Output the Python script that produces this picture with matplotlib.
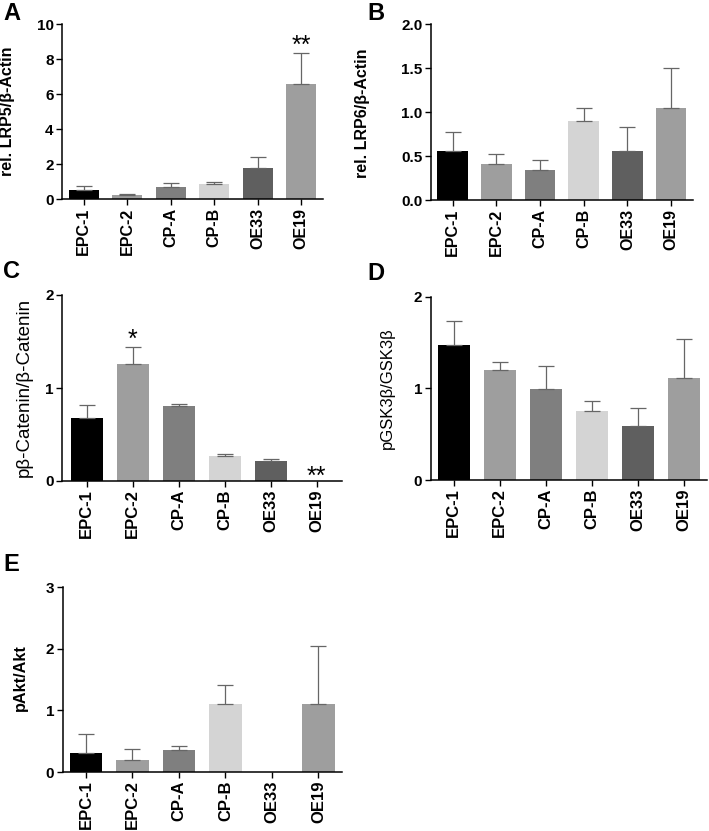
import matplotlib
matplotlib.use("Agg")
import matplotlib.pyplot as plt
import numpy as np

plt.rcParams["font.family"] = ["Liberation Sans", "DejaVu Sans"]

groups = ["EPC-1", "EPC-2", "CP-A", "CP-B", "OE33", "OE19"]
bar_colors = ["#000000", "#9e9e9e", "#7f7f7f", "#d4d4d4", "#5f5f5f", "#9e9e9e"]

lrp5 = [0.51, 0.25, 0.69, 0.88, 1.77, 6.61]
lrp5_err = [0.23, 0.05, 0.24, 0.13, 0.65, 1.77]

lrp6 = [0.56, 0.41, 0.35, 0.90, 0.56, 1.05]
lrp6_err = [0.22, 0.12, 0.11, 0.15, 0.27, 0.45]

pcat = [0.68, 1.26, 0.81, 0.27, 0.22, 0.0]
pcat_err = [0.14, 0.18, 0.02, 0.02, 0.02, 0.0]

pgsk = [1.47, 1.20, 0.99, 0.75, 0.59, 1.11]
pgsk_err = [0.27, 0.09, 0.25, 0.11, 0.20, 0.43]

pakt = [0.31, 0.19, 0.36, 1.11, 0.0, 1.11]
pakt_err = [0.31, 0.19, 0.07, 0.30, 0.0, 0.94]

W, H = 709, 831
fig = plt.figure(figsize=(W / 100, H / 100), dpi=100)


def px_axes(l, t, r, b):
    return fig.add_axes([l / W, 1 - b / H, (r - l) / W, (b - t) / H])


def bar_panel(ax, values, errs, ylim, yticks, ylabel, label_xy, bold_label=True,
              label_size=11.5, xsize=11.5, fmt="{:g}", xlim=(-0.5, 5.5)):
    x = np.arange(len(groups))
    ax.bar(x, values, width=0.7, color=bar_colors, zorder=2)
    e = np.array(errs)
    m = e > 0
    ax.errorbar(x[m], np.array(values)[m], yerr=[np.zeros(m.sum()), e[m]],
                fmt="none", ecolor="#666666", elinewidth=0.9, capsize=5.5,
                capthick=0.9, zorder=3)
    ax.set_ylim(*ylim)
    ax.set_xlim(*xlim)
    ax.set_yticks(yticks)
    ax.set_yticklabels([fmt.format(v) for v in yticks], fontsize=11,
                       fontweight="bold")
    ax.set_xticks(x)
    ax.set_xticklabels(groups, rotation=90, fontsize=xsize, fontweight="bold")
    ax.spines["top"].set_visible(False)
    ax.spines["right"].set_visible(False)
    for s in ("left", "bottom"):
        ax.spines[s].set_linewidth(1.1)
    ax.tick_params(axis="both", length=4, width=1.0, pad=2)
    ax.set_ylabel(ylabel, fontsize=label_size,
                  fontweight="bold" if bold_label else "normal")
    ax.yaxis.set_label_coords(*label_xy)


axA = px_axes(62, 24.3, 323, 199.3)
bar_panel(axA, lrp5, lrp5_err, (0, 10), [0, 2, 4, 6, 8, 10],
          "rel. LRP5/β-Actin", (-0.18, 0.505))
axA.text(5, 8.75, "**", ha="center", va="center", fontsize=18)

axB = px_axes(430.7, 24.3, 693, 200.3)
bar_panel(axB, lrp6, lrp6_err, (0, 2), [0, 0.5, 1.0, 1.5, 2.0],
          "rel. LRP6/β-Actin", (-0.231, 0.496), fmt="{:.1f}")

axC = px_axes(62, 295, 341.7, 481)
bar_panel(axC, pcat, pcat_err, (0, 2), [0, 1, 2],
          "pβ-Catenin/β-Catenin", (-0.104, 0.503), bold_label=False,
          label_size=13.5, xsize=12, xlim=(-0.54, 5.54))
axC.text(1, 1.52, "*", ha="center", va="center", fontsize=18)
axC.text(5, 0.04, "**", ha="center", va="center", fontsize=18)

axD = px_axes(430.7, 296.7, 707, 480)
bar_panel(axD, pgsk, pgsk_err, (0, 2), [0, 1, 2],
          "pGSK3β/GSK3β", (-0.129, 0.50), bold_label=False,
          label_size=12, xsize=12)

axE = px_axes(62.7, 587.3, 341.7, 772)
bar_panel(axE, pakt, pakt_err, (0, 3), [0, 1, 2, 3],
          "pAkt/Akt", (-0.124, 0.51), label_size=11.7, xsize=12)

for letter, (lx, ly) in {"A": (3, 2), "B": (367, 2), "C": (3, 260),
                         "D": (367, 262), "E": (3, 553)}.items():
    fig.text(lx / W, 1 - ly / H, letter, fontsize=17, fontweight="bold",
             ha="left", va="top")

fig.savefig("out.png", dpi=100)
